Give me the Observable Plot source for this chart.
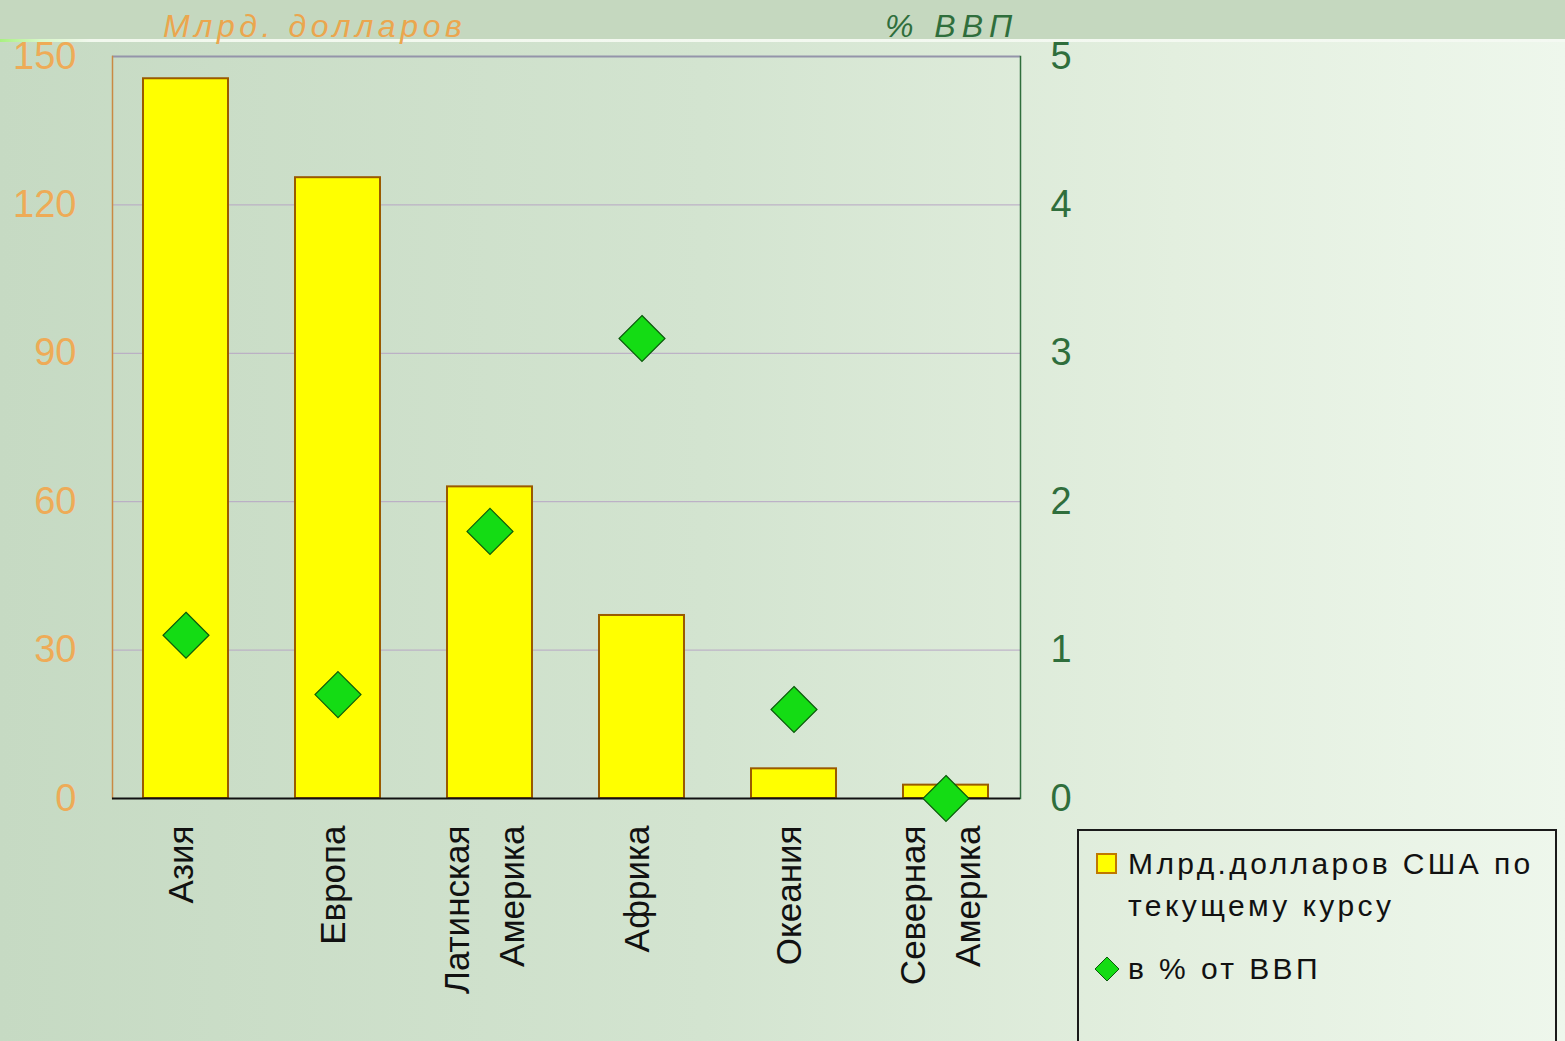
<!DOCTYPE html>
<html>
<head>
<meta charset="utf-8">
<script src="https://cdn.jsdelivr.net/npm/d3@7"></script>
<script src="https://cdn.jsdelivr.net/npm/@observablehq/plot@0.6"></script>
<style>
  html, body { margin: 0; padding: 0; }
  #wrap { position: relative; width: 1565px; height: 1041px; overflow: hidden;
    background: linear-gradient(to right, #c6dac3 0%, #d3e4d0 45%, #e3efdf 75%, #eef7ec 100%);
    font-family: "Liberation Sans", "DejaVu Sans", sans-serif; }
  #band { position: absolute; left: 0; top: 0; width: 1565px; height: 40px; background: #c5d8bf; }
  #band-line { position: absolute; left: 0; top: 39px; width: 1565px; height: 3px;
    background: linear-gradient(to right, #a8f080 0px, #d8f8c8 40px, #f2f8ee 90px, #f4f9f2 100%); }
  #chart { position: absolute; left: 0; top: 0; }
  .title { position: absolute; font-style: italic; font-size: 32px; font-weight: 300; white-space: nowrap; }
  #legend { position: absolute; left: 1077px; top: 829px; width: 480px; height: 240px;
    border: 2px solid #1a1a1a; box-sizing: border-box; }
  .leg { position: absolute; font-size: 30px; color: #111; white-space: nowrap; line-height: 42px; letter-spacing: 3.4px; }
</style>
</head>
<body>
<div id="wrap">
  <div id="band"></div>
  <div id="band-line"></div>
  <div id="chart"></div>
  <div class="title" id="t-left" style="left:163px; top:8px; color:#eba64e; letter-spacing:4.6px;"></div>
  <div class="title" id="t-right" style="left:885px; top:8px; color:#2f6e3c; letter-spacing:6px;"></div>
  <div id="legend"></div>
</div>
<script>
// ---- data ----
const categories = ["Азия", "Европа", "Латинская Америка", "Африка", "Океания", "Северная Америка"];
const usdBillions = [145.5, 125.5, 63, 37, 6, 2.7];
const pctGdp = [1.1, 0.7, 1.8, 3.1, 0.6, 0.0];
const leftTicks = [0, 30, 60, 90, 120, 150];
const rightTicks = [0, 1, 2, 3, 4, 5];
const gridTicks = [30, 60, 90, 120];
const leftTitle = "Млрд. долларов";
const rightTitle = "% ВВП";
const seriesBarsLines = ["Млрд.долларов США по", "текущему курсу"];
const seriesDots = "в % от ВВП";

const ratio = leftTicks[leftTicks.length - 1] / rightTicks[rightTicks.length - 1]; // 150 / 5
const rows = categories.map((c, i) => ({region: c, usd: usdBillions[i], pct: pctGdp[i]}));

const chart = Plot.plot({
  width: 1565,
  height: 1041,
  marginLeft: 112,
  marginRight: 545,
  marginTop: 56,
  marginBottom: 243,
  style: {background: "transparent", fontFamily: "'Liberation Sans', 'DejaVu Sans', sans-serif"},
  x: {domain: categories, paddingInner: 0.44, paddingOuter: 0.19},
  y: {domain: [0, 150]},
  marks: [
    Plot.ruleY(gridTicks, {stroke: "#b7a6c4", strokeWidth: 1}),
    Plot.ruleY([150], {stroke: "#9494aa", strokeWidth: 2}),
    Plot.frame({anchor: "left", stroke: "#c98a44", strokeWidth: 1.5}),
    Plot.frame({anchor: "right", stroke: "#2f6e3c", strokeWidth: 1.5}),
    Plot.barY(rows, {x: "region", y: "usd", fill: "#ffff00", stroke: "#9a5a00", strokeWidth: 2}),
    Plot.ruleY([0], {stroke: "#111", strokeWidth: 2}),
    Plot.dot(rows, {x: "region", y: d => d.pct * ratio, symbol: "diamond2", r: 20.7,
      fill: "#14dc14", stroke: "#0b5a0b", strokeWidth: 1.2}),
    Plot.axisY({ticks: leftTicks, anchor: "left", tickSize: 0, tickPadding: 36, fontSize: 38,
      color: "#eeab57", label: null, fontWeight: 300}),
    Plot.axisY({ticks: rightTicks.map(v => v * ratio), anchor: "right", tickSize: 0, tickPadding: 30,
      fontSize: 38, color: "#2f6e3c", label: null, tickFormat: d => d / ratio, fontWeight: 300}),
    Plot.axisX({tickSize: 0, tickRotate: -90, tickPadding: 27, fontSize: 35, lineHeight: 1.58,
      color: "#111", label: null, dx: -11, tickFormat: d => d.replace(" ", "\n")})
  ]
});
document.getElementById("chart").appendChild(chart);

document.getElementById("t-left").textContent = leftTitle;
document.getElementById("t-right").textContent = rightTitle;

const legend = document.getElementById("legend");
legend.innerHTML = `
  <svg style="position:absolute;left:16px;top:21px" width="24" height="24">
    <rect x="2" y="2" width="19" height="19" fill="#ffff00" stroke="#c07800" stroke-width="2"/></svg>
  <div class="leg" style="left:49px;top:12px;">${seriesBarsLines[0]}</div>
  <div class="leg" style="left:49px;top:54px;">${seriesBarsLines[1]}</div>
  <svg style="position:absolute;left:14px;top:124px" width="28" height="28">
    <path d="M14,2 L26,14 L14,26 L2,14 Z" fill="#14dc14" stroke="#0b5a0b" stroke-width="1"/></svg>
  <div class="leg" style="left:49px;top:117px;">${seriesDots}</div>
`;
</script>
</body>
</html>
